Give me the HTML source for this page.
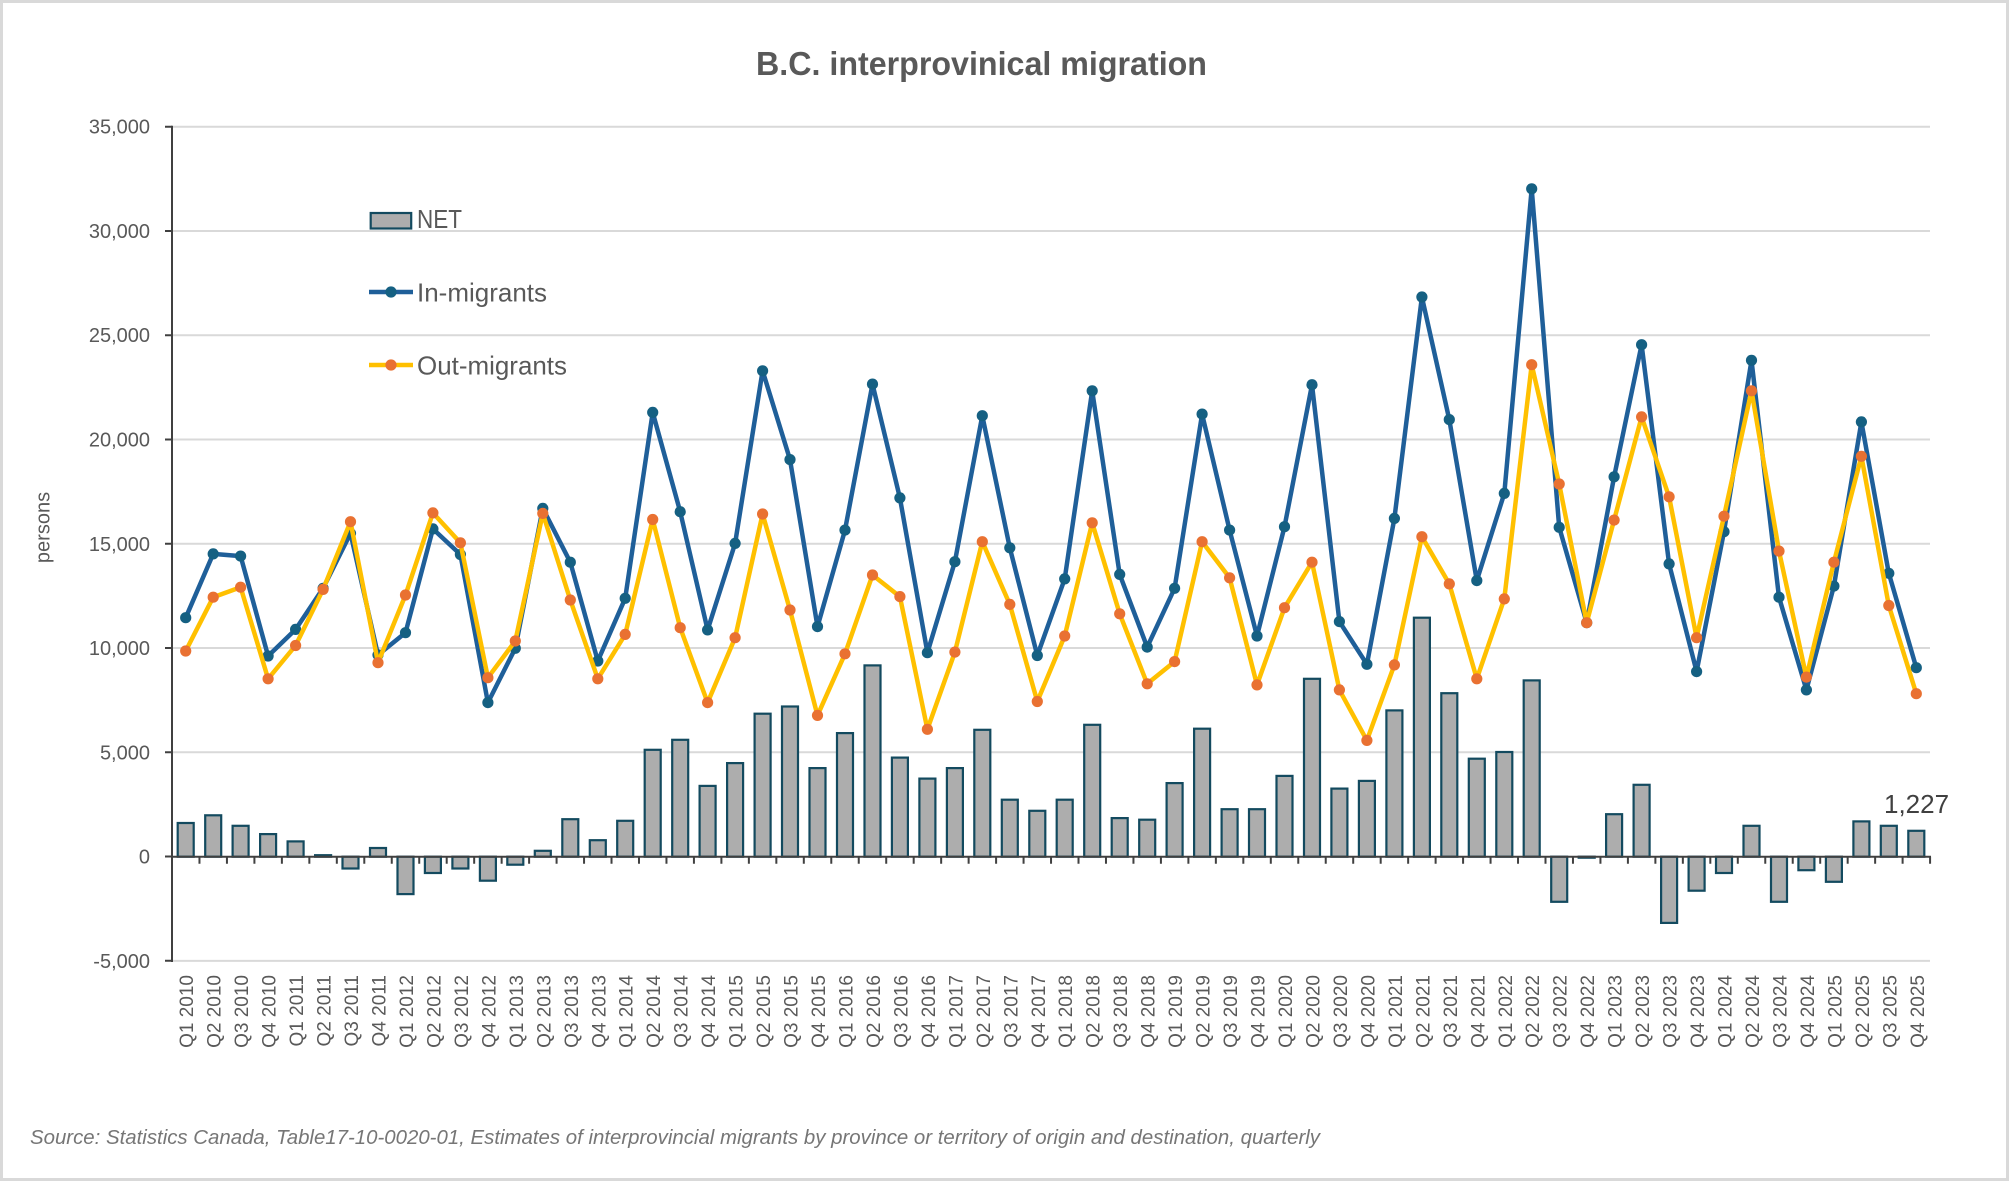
<!DOCTYPE html>
<html><head><meta charset="utf-8"><style>
html,body{margin:0;padding:0;background:#fff;}
svg{display:block;}
text{font-family:"Liberation Sans",Arial,sans-serif;}
</style></head><body>
<svg width="2009" height="1181" viewBox="0 0 2009 1181" xmlns="http://www.w3.org/2000/svg">
<defs>
<marker id="mi" markerWidth="14" markerHeight="14" refX="7" refY="7" markerUnits="userSpaceOnUse"><circle cx="7" cy="7" r="5.6" fill="#156082"/></marker>
<marker id="mo" markerWidth="14" markerHeight="14" refX="7" refY="7" markerUnits="userSpaceOnUse"><circle cx="7" cy="7" r="5.6" fill="#E97132"/></marker>
</defs>
<rect x="0" y="0" width="2009" height="1181" fill="#fff"/>
<rect x="1.5" y="1.5" width="2006" height="1178" fill="none" stroke="#D9D9D9" stroke-width="3"/>

<text x="756" y="75" font-size="33" font-weight="bold" fill="#595959" textLength="451" lengthAdjust="spacingAndGlyphs">B.C. interprovinical migration</text>

<!-- gridlines -->
<g stroke="#D9D9D9" stroke-width="2">
<line x1="172" y1="126.7" x2="1930" y2="126.7"/>
<line x1="172" y1="231.0" x2="1930" y2="231.0"/>
<line x1="172" y1="335.2" x2="1930" y2="335.2"/>
<line x1="172" y1="439.5" x2="1930" y2="439.5"/>
<line x1="172" y1="543.8" x2="1930" y2="543.8"/>
<line x1="172" y1="648.0" x2="1930" y2="648.0"/>
<line x1="172" y1="752.3" x2="1930" y2="752.3"/>
<line x1="172" y1="960.9" x2="1930" y2="960.9"/>
</g>

<!-- y tick labels -->
<g font-size="20" fill="#595959" text-anchor="end">
<text x="150" y="133.7">35,000</text>
<text x="150" y="238.0">30,000</text>
<text x="150" y="342.2">25,000</text>
<text x="150" y="446.5">20,000</text>
<text x="150" y="550.8">15,000</text>
<text x="150" y="655.0">10,000</text>
<text x="150" y="759.3">5,000</text>
<text x="150" y="863.7">0</text>
<text x="150" y="967.9">-5,000</text>
</g>
<text transform="translate(49.5,527.5) rotate(-90)" font-size="20" fill="#595959" text-anchor="middle">persons</text>

<!-- bars -->
<g fill="#ADADAD" stroke="#134A5F" stroke-width="2.2">
<rect x="177.7" y="823.0" width="16" height="33.7"/>
<rect x="205.2" y="815.3" width="16" height="41.4"/>
<rect x="232.6" y="825.8" width="16" height="30.9"/>
<rect x="260.1" y="834.1" width="16" height="22.6"/>
<rect x="287.6" y="841.4" width="16" height="15.3"/>
<rect x="315.1" y="855.2" width="16" height="1.5"/>
<rect x="342.5" y="856.7" width="16" height="11.8"/>
<rect x="370.0" y="848.0" width="16" height="8.7"/>
<rect x="397.5" y="856.7" width="16" height="37.4"/>
<rect x="424.9" y="856.7" width="16" height="16.3"/>
<rect x="452.4" y="856.7" width="16" height="11.8"/>
<rect x="479.9" y="856.7" width="16" height="24.0"/>
<rect x="507.3" y="856.7" width="16" height="8.0"/>
<rect x="534.8" y="850.8" width="16" height="5.9"/>
<rect x="562.3" y="819.2" width="16" height="37.5"/>
<rect x="589.8" y="840.2" width="16" height="16.5"/>
<rect x="617.2" y="820.8" width="16" height="35.9"/>
<rect x="644.7" y="749.8" width="16" height="106.9"/>
<rect x="672.2" y="739.8" width="16" height="116.9"/>
<rect x="699.6" y="785.9" width="16" height="70.8"/>
<rect x="727.1" y="763.1" width="16" height="93.6"/>
<rect x="754.6" y="713.7" width="16" height="143.0"/>
<rect x="782.0" y="706.5" width="16" height="150.2"/>
<rect x="809.5" y="768.1" width="16" height="88.6"/>
<rect x="837.0" y="733.1" width="16" height="123.6"/>
<rect x="864.5" y="665.4" width="16" height="191.3"/>
<rect x="891.9" y="757.6" width="16" height="99.1"/>
<rect x="919.4" y="778.6" width="16" height="78.1"/>
<rect x="946.9" y="768.1" width="16" height="88.6"/>
<rect x="974.3" y="729.8" width="16" height="126.9"/>
<rect x="1001.8" y="799.7" width="16" height="57.0"/>
<rect x="1029.3" y="810.8" width="16" height="45.9"/>
<rect x="1056.7" y="799.7" width="16" height="57.0"/>
<rect x="1084.2" y="724.8" width="16" height="131.9"/>
<rect x="1111.7" y="818.1" width="16" height="38.6"/>
<rect x="1139.2" y="819.7" width="16" height="37.0"/>
<rect x="1166.6" y="783.1" width="16" height="73.6"/>
<rect x="1194.1" y="728.7" width="16" height="128.0"/>
<rect x="1221.6" y="809.2" width="16" height="47.5"/>
<rect x="1249.0" y="809.2" width="16" height="47.5"/>
<rect x="1276.5" y="775.9" width="16" height="80.8"/>
<rect x="1304.0" y="678.8" width="16" height="177.9"/>
<rect x="1331.4" y="788.6" width="16" height="68.1"/>
<rect x="1358.9" y="780.9" width="16" height="75.8"/>
<rect x="1386.4" y="710.4" width="16" height="146.3"/>
<rect x="1413.9" y="617.7" width="16" height="239.0"/>
<rect x="1441.3" y="693.2" width="16" height="163.5"/>
<rect x="1468.8" y="758.7" width="16" height="98.0"/>
<rect x="1496.3" y="752.0" width="16" height="104.7"/>
<rect x="1523.7" y="680.4" width="16" height="176.3"/>
<rect x="1551.2" y="856.7" width="16" height="45.1"/>
<rect x="1578.7" y="856.7" width="16" height="1.0"/>
<rect x="1606.1" y="814.2" width="16" height="42.5"/>
<rect x="1633.6" y="784.8" width="16" height="71.9"/>
<rect x="1661.1" y="856.7" width="16" height="66.2"/>
<rect x="1688.6" y="856.7" width="16" height="34.0"/>
<rect x="1716.0" y="856.7" width="16" height="16.3"/>
<rect x="1743.5" y="825.8" width="16" height="30.9"/>
<rect x="1771.0" y="856.7" width="16" height="45.1"/>
<rect x="1798.4" y="856.7" width="16" height="13.5"/>
<rect x="1825.9" y="856.7" width="16" height="25.1"/>
<rect x="1853.4" y="821.4" width="16" height="35.3"/>
<rect x="1880.8" y="825.8" width="16" height="30.9"/>
<rect x="1908.3" y="830.8" width="16" height="25.9"/>
</g>

<!-- axes -->
<line x1="172" y1="125.7" x2="172" y2="962" stroke="#404040" stroke-width="2"/>
<line x1="168.5" y1="125.7" x2="168.5" y2="962" stroke="#404040" stroke-width="7" stroke-dasharray="2 102.25"/>
<line x1="172" y1="856.7" x2="1931" y2="856.7" stroke="#404040" stroke-width="2"/>
<line x1="171" y1="860.2" x2="1931.1" y2="860.2" stroke="#404040" stroke-width="7" stroke-dasharray="2 25.47"/>

<!-- lines -->
<polyline fill="none" stroke="#1F5F99" stroke-width="4.5" stroke-linejoin="round" marker-start="url(#mi)" marker-mid="url(#mi)" marker-end="url(#mi)" points="185.7,617.7 213.2,553.9 240.6,556.1 268.1,656.0 295.6,629.4 323.1,588.3 350.5,533.4 378.0,654.9 405.5,632.7 432.9,528.9 460.4,554.5 487.9,702.6 515.3,648.3 542.8,508.4 570.3,562.2 597.8,661.0 625.2,598.3 652.7,412.4 680.2,511.7 707.6,629.9 735.1,543.4 762.6,370.8 790.0,459.6 817.5,626.6 845.0,530.1 872.5,384.1 899.9,497.9 927.4,652.7 954.9,561.7 982.3,415.7 1009.8,547.8 1037.3,655.5 1064.7,578.9 1092.2,390.8 1119.7,574.4 1147.2,647.1 1174.6,588.3 1202.1,414.1 1229.6,530.1 1257.0,636.0 1284.5,526.7 1312.0,384.7 1339.4,621.6 1366.9,664.3 1394.4,518.4 1421.9,297.0 1449.3,419.6 1476.8,580.6 1504.3,493.4 1531.7,188.8 1559.2,527.3 1586.7,622.7 1614.1,476.8 1641.6,344.7 1669.1,563.9 1696.6,671.6 1724.0,531.7 1751.5,360.3 1779.0,597.2 1806.4,689.9 1833.9,586.1 1861.4,421.9 1888.8,573.3 1916.3,667.7"/>
<polyline fill="none" stroke="#FFC000" stroke-width="4.5" stroke-linejoin="round" marker-start="url(#mo)" marker-mid="url(#mo)" marker-end="url(#mo)" points="185.7,651.0 213.2,597.2 240.6,587.2 268.1,678.8 295.6,645.5 323.1,589.4 350.5,521.7 378.0,662.7 405.5,595.0 432.9,512.9 460.4,542.8 487.9,677.7 515.3,641.0 542.8,513.4 570.3,600.0 597.8,678.8 625.2,634.4 652.7,519.5 680.2,627.7 707.6,702.6 735.1,637.7 762.6,514.0 790.0,610.0 817.5,715.4 845.0,653.8 872.5,575.0 899.9,596.6 927.4,729.3 954.9,652.1 982.3,541.7 1009.8,604.4 1037.3,701.5 1064.7,636.0 1092.2,522.8 1119.7,613.8 1147.2,683.8 1174.6,661.6 1202.1,541.7 1229.6,577.8 1257.0,684.9 1284.5,607.7 1312.0,562.2 1339.4,689.9 1366.9,740.4 1394.4,664.9 1421.9,536.7 1449.3,583.9 1476.8,678.8 1504.3,598.9 1531.7,364.7 1559.2,484.0 1586.7,622.7 1614.1,520.1 1641.6,416.9 1669.1,496.8 1696.6,637.7 1724.0,516.2 1751.5,390.8 1779.0,551.1 1806.4,677.1 1833.9,562.2 1861.4,456.3 1888.8,605.5 1916.3,693.7"/>

<!-- data label -->
<text x="1884" y="813" font-size="26" fill="#404040">1,227</text>

<!-- legend -->
<rect x="370.7" y="213" width="40.5" height="15.5" fill="#ADADAD" stroke="#134A5F" stroke-width="2.2"/>
<text x="417" y="228" font-size="26" fill="#595959" textLength="45" lengthAdjust="spacingAndGlyphs">NET</text>
<line x1="369" y1="292" x2="413" y2="292" stroke="#1F5F99" stroke-width="4.5"/>
<circle cx="391" cy="292" r="5.6" fill="#156082"/>
<text x="417" y="301.5" font-size="26" fill="#595959" textLength="130" lengthAdjust="spacingAndGlyphs">In-migrants</text>
<line x1="369" y1="365" x2="413" y2="365" stroke="#FFC000" stroke-width="4.5"/>
<circle cx="391" cy="365" r="5.6" fill="#E97132"/>
<text x="417" y="374.5" font-size="26" fill="#595959" textLength="150" lengthAdjust="spacingAndGlyphs">Out-migrants</text>

<!-- x labels -->
<g font-size="19" fill="#595959" text-anchor="end">
<text transform="translate(193.2,975) rotate(-90)">Q1 2010</text>
<text transform="translate(220.7,975) rotate(-90)">Q2 2010</text>
<text transform="translate(248.1,975) rotate(-90)">Q3 2010</text>
<text transform="translate(275.6,975) rotate(-90)">Q4 2010</text>
<text transform="translate(303.1,975) rotate(-90)">Q1 2011</text>
<text transform="translate(330.6,975) rotate(-90)">Q2 2011</text>
<text transform="translate(358.0,975) rotate(-90)">Q3 2011</text>
<text transform="translate(385.5,975) rotate(-90)">Q4 2011</text>
<text transform="translate(413.0,975) rotate(-90)">Q1 2012</text>
<text transform="translate(440.4,975) rotate(-90)">Q2 2012</text>
<text transform="translate(467.9,975) rotate(-90)">Q3 2012</text>
<text transform="translate(495.4,975) rotate(-90)">Q4 2012</text>
<text transform="translate(522.8,975) rotate(-90)">Q1 2013</text>
<text transform="translate(550.3,975) rotate(-90)">Q2 2013</text>
<text transform="translate(577.8,975) rotate(-90)">Q3 2013</text>
<text transform="translate(605.3,975) rotate(-90)">Q4 2013</text>
<text transform="translate(632.7,975) rotate(-90)">Q1 2014</text>
<text transform="translate(660.2,975) rotate(-90)">Q2 2014</text>
<text transform="translate(687.7,975) rotate(-90)">Q3 2014</text>
<text transform="translate(715.1,975) rotate(-90)">Q4 2014</text>
<text transform="translate(742.6,975) rotate(-90)">Q1 2015</text>
<text transform="translate(770.1,975) rotate(-90)">Q2 2015</text>
<text transform="translate(797.5,975) rotate(-90)">Q3 2015</text>
<text transform="translate(825.0,975) rotate(-90)">Q4 2015</text>
<text transform="translate(852.5,975) rotate(-90)">Q1 2016</text>
<text transform="translate(880.0,975) rotate(-90)">Q2 2016</text>
<text transform="translate(907.4,975) rotate(-90)">Q3 2016</text>
<text transform="translate(934.9,975) rotate(-90)">Q4 2016</text>
<text transform="translate(962.4,975) rotate(-90)">Q1 2017</text>
<text transform="translate(989.8,975) rotate(-90)">Q2 2017</text>
<text transform="translate(1017.3,975) rotate(-90)">Q3 2017</text>
<text transform="translate(1044.8,975) rotate(-90)">Q4 2017</text>
<text transform="translate(1072.2,975) rotate(-90)">Q1 2018</text>
<text transform="translate(1099.7,975) rotate(-90)">Q2 2018</text>
<text transform="translate(1127.2,975) rotate(-90)">Q3 2018</text>
<text transform="translate(1154.7,975) rotate(-90)">Q4 2018</text>
<text transform="translate(1182.1,975) rotate(-90)">Q1 2019</text>
<text transform="translate(1209.6,975) rotate(-90)">Q2 2019</text>
<text transform="translate(1237.1,975) rotate(-90)">Q3 2019</text>
<text transform="translate(1264.5,975) rotate(-90)">Q4 2019</text>
<text transform="translate(1292.0,975) rotate(-90)">Q1 2020</text>
<text transform="translate(1319.5,975) rotate(-90)">Q2 2020</text>
<text transform="translate(1346.9,975) rotate(-90)">Q3 2020</text>
<text transform="translate(1374.4,975) rotate(-90)">Q4 2020</text>
<text transform="translate(1401.9,975) rotate(-90)">Q1 2021</text>
<text transform="translate(1429.4,975) rotate(-90)">Q2 2021</text>
<text transform="translate(1456.8,975) rotate(-90)">Q3 2021</text>
<text transform="translate(1484.3,975) rotate(-90)">Q4 2021</text>
<text transform="translate(1511.8,975) rotate(-90)">Q1 2022</text>
<text transform="translate(1539.2,975) rotate(-90)">Q2 2022</text>
<text transform="translate(1566.7,975) rotate(-90)">Q3 2022</text>
<text transform="translate(1594.2,975) rotate(-90)">Q4 2022</text>
<text transform="translate(1621.6,975) rotate(-90)">Q1 2023</text>
<text transform="translate(1649.1,975) rotate(-90)">Q2 2023</text>
<text transform="translate(1676.6,975) rotate(-90)">Q3 2023</text>
<text transform="translate(1704.1,975) rotate(-90)">Q4 2023</text>
<text transform="translate(1731.5,975) rotate(-90)">Q1 2024</text>
<text transform="translate(1759.0,975) rotate(-90)">Q2 2024</text>
<text transform="translate(1786.5,975) rotate(-90)">Q3 2024</text>
<text transform="translate(1813.9,975) rotate(-90)">Q4 2024</text>
<text transform="translate(1841.4,975) rotate(-90)">Q1 2025</text>
<text transform="translate(1868.9,975) rotate(-90)">Q2 2025</text>
<text transform="translate(1896.3,975) rotate(-90)">Q3 2025</text>
<text transform="translate(1923.8,975) rotate(-90)">Q4 2025</text>
</g>

<text x="30" y="1144" font-size="20" font-style="italic" fill="#767676" textLength="1290" lengthAdjust="spacingAndGlyphs">Source: Statistics Canada, Table17-10-0020-01, Estimates of interprovincial migrants by province or territory of origin and destination, quarterly</text>
</svg>
</body></html>
